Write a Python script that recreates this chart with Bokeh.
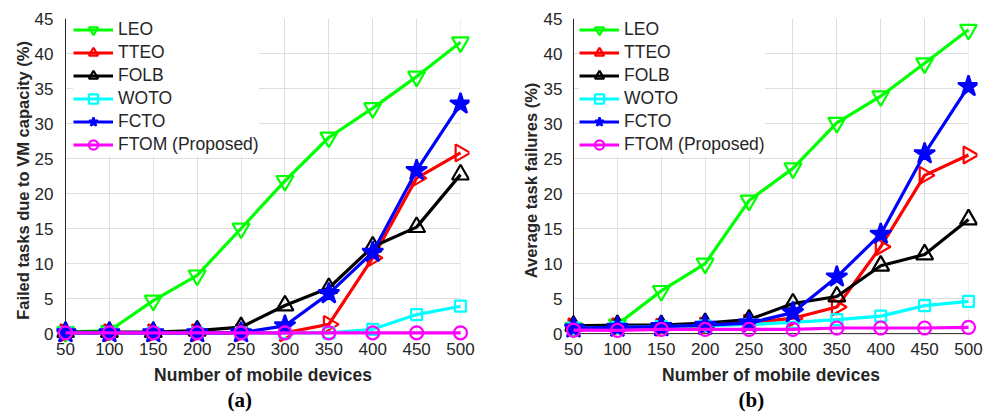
from bokeh.plotting import figure
from bokeh.layouts import row
from bokeh.models import FixedTicker, Legend, LegendItem, Title, BoxAnnotation, Range1d
from bokeh.embed import file_html
from bokeh.resources import INLINE

# x positions: number of mobile devices
devices = [50, 100, 150, 200, 250, 300, 350, 400, 450, 500]
x_ticks = [50, 100, 150, 200, 250, 300, 350, 400, 450, 500]
y_ticks = [0, 5, 10, 15, 20, 25, 30, 35, 40, 45]

series_names = ["LEO", "TTEO", "FOLB", "WOTO", "FCTO", "FTOM (Proposed)"]

# (a) failed tasks due to VM capacity (%)
vm_leo = [0.2, 0.4, 4.7, 8.3, 15.0, 21.8, 28.0, 32.2, 36.7, 41.6]
vm_tteo = [0.1, 0.1, 0.1, 0.1, 0.1, 0.1, 1.3, 10.8, 22.2, 25.8]
vm_folb = [0.2, 0.2, 0.2, 0.4, 0.9, 4.0, 6.5, 12.4, 15.2, 22.7]
vm_woto = [0.1, 0.1, 0.1, 0.1, 0.1, 0.1, 0.1, 0.6, 2.7, 3.9]
vm_fcto = [0.1, 0.1, 0.1, 0.1, 0.1, 1.1, 5.7, 11.6, 23.3, 32.8]
vm_ftom = [0.1, 0.1, 0.1, 0.1, 0.1, 0.1, 0.1, 0.1, 0.1, 0.1]

# (b) average task failures (%)
avg_leo = [0.8, 1.3, 6.1, 10.0, 19.0, 23.6, 30.1, 33.9, 38.6, 43.4]
avg_tteo = [1.0, 1.0, 0.9, 1.1, 1.5, 2.2, 3.8, 12.4, 22.6, 25.5]
avg_folb = [1.1, 1.2, 1.2, 1.5, 2.0, 4.3, 5.3, 9.7, 11.3, 16.3]
avg_woto = [0.8, 0.9, 1.0, 1.1, 1.3, 1.6, 2.0, 2.5, 4.0, 4.6]
avg_fcto = [0.8, 0.9, 1.0, 1.2, 1.5, 3.0, 8.1, 14.2, 25.7, 35.3]
avg_ftom = [0.5, 0.45, 0.6, 0.6, 0.6, 0.6, 0.8, 0.8, 0.8, 0.9]

colors = ["#00ff00", "#ff0000", "#000000", "#00ffff", "#0000ff", "#ff00ff"]
markers = ["inverted_triangle", "triangle", "triangle", "square", "star", "circle"]
angles = [0.0, -1.5708, 0.0, 0.0, 0.0, 0.0]
sizes = [17, 17, 17, 11, 22, 13]
filled = [False, False, False, False, True, False]

INK = "#262626"
SANS = "Liberation Sans"


def make_panel(series, ylabel, tag, width, border, legend_xy, ytick_standoff,
               ylabel_standoff, tag_offset):
    left, right, top, bottom = border
    frame_w = width - left - right
    frame_h = 416 - top - bottom
    pad_px = 9
    # pad the ranges a little so markers on the edges are drawn whole
    dx = (x_ticks[-1] - x_ticks[0]) * pad_px / (frame_w - 2 * pad_px)
    dy = (y_ticks[-1] - y_ticks[0]) * pad_px / (frame_h - pad_px)
    p = figure(width=width, height=416, output_backend="svg", toolbar_location=None,
               x_range=Range1d(x_ticks[0] - dx, x_ticks[-1] + dx),
               y_range=Range1d(y_ticks[0] - dy, y_ticks[-1]),
               min_border_left=left, min_border_right=right,
               min_border_top=top, min_border_bottom=bottom)
    p.outline_line_color = None
    p.background_fill_color = "white"
    p.border_fill_color = "white"

    for ax, ticks in ((p.xaxis[0], x_ticks), (p.yaxis[0], y_ticks)):
        ax.ticker = FixedTicker(ticks=ticks)
        ax.major_tick_line_color = None
        ax.minor_tick_line_color = None
        ax.axis_line_color = None
        ax.major_label_text_font = SANS
        ax.major_label_text_font_size = "17px"
        ax.major_label_text_color = INK
        ax.axis_label_text_font = SANS
        ax.axis_label_text_font_style = "bold"
        ax.axis_label_text_color = INK
    p.xaxis[0].axis_label_text_font_size = "17.5px"
    p.yaxis[0].axis_label_text_font_size = "16.5px"
    p.xaxis[0].major_label_standoff = -6
    p.yaxis[0].major_label_standoff = ytick_standoff
    p.xaxis[0].axis_label_standoff = 7
    p.yaxis[0].axis_label_standoff = ylabel_standoff
    p.xaxis[0].axis_label = "Number of mobile devices"
    p.yaxis[0].axis_label = ylabel

    for g, ticks in ((p.xgrid[0], x_ticks), (p.ygrid[0], y_ticks)):
        g.ticker = FixedTicker(ticks=ticks)
        g.grid_line_color = "#dedede"
        g.grid_line_width = 1

    # blank out grid that falls outside the axes box
    for kw in (dict(right=x_ticks[0]), dict(left=x_ticks[-1]), dict(top=y_ticks[0])):
        p.add_layout(BoxAnnotation(fill_color="white", fill_alpha=1.0, line_color=None,
                                   level="underlay", **kw))

    # axis rules along x = first tick and y = 0
    p.segment(x0=[x_ticks[0], x_ticks[0]], y0=[y_ticks[0], y_ticks[0]],
              x1=[x_ticks[-1], x_ticks[0]], y1=[y_ticks[0], y_ticks[-1]],
              line_color=INK, line_width=1)

    items = []
    for name, ys, c, m, a, s, f in zip(series_names, series, colors, markers, angles, sizes, filled):
        lr = p.line(devices, ys, line_color=c, line_width=3.2)
        sr = p.scatter(devices, ys, marker=m, angle=a, size=s, line_color=c, line_width=2.2,
                       fill_color=c if f else None)
        items.append(LegendItem(label=name, renderers=[lr, sr]))

    legend = Legend(items=items, location=legend_xy, margin=0, padding=0,
                    spacing=0, glyph_width=40, glyph_height=23, label_height=20,
                    label_standoff=5, label_text_font=SANS, label_text_font_size="17.5px",
                    label_text_color=INK, border_line_color=None,
                    background_fill_color="white", background_fill_alpha=1.0)
    p.add_layout(legend)

    # sub-figure tag under the axis title
    p.add_layout(Title(text=tag, align="left", offset=tag_offset, standoff=-4,
                       text_font="Liberation Serif", text_font_size="21px",
                       text_font_style="bold", text_color="black"), "below")
    return p


left_fig = make_panel([vm_leo, vm_tteo, vm_folb, vm_woto, vm_fcto, vm_ftom],
                      "Failed tasks due to VM capacity (%)", "(a)", 496,
                      (56, 27, 18, 74), (17, 186), -3, 0, 171)
right_fig = make_panel([avg_leo, avg_tteo, avg_folb, avg_woto, avg_fcto, avg_ftom],
                       "Average task failures (%)", "(b)", 497,
                       (68, 16, 15, 73), (15, 186), -4, 1, 174)

layout = row(left_fig, right_fig)
open("out.html", "w").write(file_html(layout, INLINE))
